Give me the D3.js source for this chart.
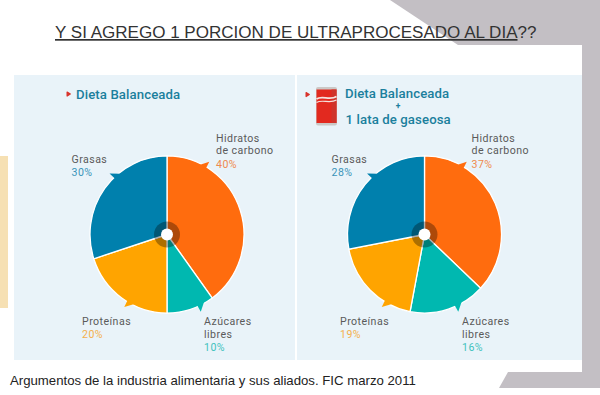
<!DOCTYPE html>
<html>
<head>
<meta charset="utf-8">
<script src="https://cdn.jsdelivr.net/npm/d3@7"></script>
<style>
  html, body { margin: 0; padding: 0; background: #fff; }
  svg { display: block; }
  .din { font-family: Roboto, sans-serif; }
  .arial { font-family: "Liberation Sans", Arial, sans-serif; }
</style>
</head>
<body>
<div id="chart"></div>
<script>
var categories = ["Hidratos de carbono", "Azúcares libres", "Proteínas", "Grasas"];
var labelLines = [["Hidratos", "de carbono"], ["Azúcares", "libres"], ["Proteínas"], ["Grasas"]];
var dietaBalanceada = [40, 10, 20, 30];
var dietaConGaseosa = [37, 16, 19, 28];

var sliceColors = ["#ff6c0e", "#00b8b0", "#ffa400", "#0080ad"];
var pctColors = ["#ef8a4e", "#3fc2bd", "#f4b04c", "#3b93b9"];

// little tabs on the rim: [base start, base end, tip] in degrees, pie angle
var tabs = [[25, 31, 30.6], [150, 156.5, 156], [205, 211.5, 211], [316.5, 322.5, 316.2]];

var width = 600, height = 395;

var svg = d3.select("#chart").append("svg")
    .attr("width", width)
    .attr("height", height);

// grey slide frame
svg.append("path")
    .attr("d", "M390,0 L458,45 L582,45 L582,372 L508,372 L499,388 L600,388 L600,0 Z")
    .attr("fill", "#c3bfc4");

svg.append("rect")
    .attr("x", 0).attr("y", 156)
    .attr("width", 8).attr("height", 152)
    .attr("fill", "#f6e0b3");

// panels
svg.append("rect").attr("x", 14).attr("y", 75).attr("width", 281).attr("height", 285).attr("fill", "#e9f3f9");
svg.append("rect").attr("x", 297).attr("y", 75).attr("width", 285).attr("height", 285).attr("fill", "#e9f3f9");

// title
var title = svg.append("text")
    .attr("class", "arial")
    .attr("x", 55)
    .attr("y", 38)
    .attr("fill", "#333")
    .attr("font-size", 17.05);
title.append("tspan")
    .attr("text-decoration", "underline")
    .text("Y SI AGREGO 1 PORCION DE ULTRAPROCESADO AL DIA");
title.append("tspan").text("??");

svg.append("text")
    .attr("class", "arial")
    .attr("x", 10)
    .attr("y", 385)
    .attr("fill", "#222")
    .attr("font-size", 13.2)
    .text("Argumentos de la industria alimentaria y sus aliados. FIC marzo 2011");

function drawPie(values, cx, cy, offsets) {
    var radius = 77;
    var g = svg.append("g").attr("transform", "translate(" + cx + "," + cy + ")");
    // the source pies are a bit taller than wide
    var disc = g.append("g").attr("transform", "scale(1,1.02)");

    var pie = d3.pie().sort(null)(values);
    var arc = d3.arc().innerRadius(0).outerRadius(radius);

    disc.selectAll(".slice")
        .data(pie)
        .enter().append("path")
        .attr("class", "slice")
        .attr("d", arc)
        .attr("fill", function (d, i) { return sliceColors[i]; })
        .attr("stroke", "#fff")
        .attr("stroke-width", 1.3);

    disc.selectAll(".tab")
        .data(tabs)
        .enter().append("path")
        .attr("class", "tab")
        .attr("fill", function (d, i) { return sliceColors[i]; })
        .attr("d", function (d) {
            var rad = Math.PI / 180;
            return "M" + d3.pointRadial(d[0] * rad, radius - 2) +
                "L" + d3.pointRadial(d[2] * rad, radius + 6) +
                "L" + d3.pointRadial(d[1] * rad, radius - 2) + "Z";
        });

    // the hub
    g.append("circle").attr("r", 13).attr("fill", "#000").attr("fill-opacity", 0.32);
    g.append("circle").attr("r", 6).attr("fill", "#fff");

    // labels
    labelLines.forEach(function (lines, i) {
        var off = offsets[i];
        var t = g.append("text")
            .attr("class", "din")
            .attr("x", off[0])
            .attr("y", off[1])
            .attr("font-size", 10.6)
            .attr("letter-spacing", 0.45);
        lines.forEach(function (line, j) {
            t.append("tspan")
                .attr("x", off[0])
                .attr("dy", j == 0 ? 0 : 12.8)
                .attr("fill", "#5a5a5a")
                .text(line);
        });
        t.append("tspan")
            .attr("x", off[0])
            .attr("dy", 13.4)
            .attr("fill", pctColors[i])
            .text(values[i] + "%");
    });
}

drawPie(dietaBalanceada, 167, 234.5, [[49, -93], [37, 90.5], [-85, 90.5], [-95.5, -71.5]]);
drawPie(dietaConGaseosa, 424.5, 234.5, [[47, -93], [37.5, 90.5], [-84.5, 90.5], [-93, -71.5]]);

// panel headings
function heading(text, x, y, anchor, size, weight) {
    svg.append("text")
        .attr("class", "din")
        .attr("x", x).attr("y", y)
        .attr("text-anchor", anchor || "start")
        .attr("font-size", size || 13.2)
        .attr("font-weight", weight || 500)
        .attr("letter-spacing", 0.1)
        .attr("fill", "#1b7f9d")
        .text(text);
}
heading("Dieta Balanceada", 76, 98.5);
heading("Dieta Balanceada", 345, 97.5);
heading("+", 398, 109, "middle", 8.5, 700);
heading("1 lata de gaseosa", 345.5, 123.5);

// red bullets
svg.selectAll(".bullet")
    .data([[68.5, 94], [307.5, 94.5]])
    .enter().append("path")
    .attr("class", "bullet")
    .attr("transform", function (d) { return "translate(" + d[0] + "," + d[1] + ")"; })
    .attr("d", "M-1.4,-2 L1.8,0 L-1.4,2 Z")
    .attr("fill", "#d8322a")
    .attr("stroke", "#d8322a")
    .attr("stroke-width", 1.2)
    .attr("stroke-linejoin", "round");

// soda can
var can = svg.append("g").attr("transform", "translate(316,87)");
can.append("rect").attr("x", 0).attr("y", 0).attr("width", 21).attr("height", 38.5).attr("rx", 2).attr("fill", "#cbc8c6");
can.append("rect").attr("x", 0.5).attr("y", 2.5).attr("width", 20).attr("height", 33.5).attr("fill", "#e2291f");
can.append("rect").attr("x", 15.5).attr("y", 2.5).attr("width", 5).attr("height", 33.5).attr("fill", "#cf342b");
can.append("path")
    .attr("d", "M0.5,12 C6,8 14,14 20.5,9.5")
    .attr("fill", "none").attr("stroke", "#f5e2de").attr("stroke-width", 1.8);
can.append("path")
    .attr("d", "M0.5,15.5 C6,12 14,17 20.5,13")
    .attr("fill", "none").attr("stroke", "#f5e2de").attr("stroke-width", 1.2);
</script>
</body>
</html>
